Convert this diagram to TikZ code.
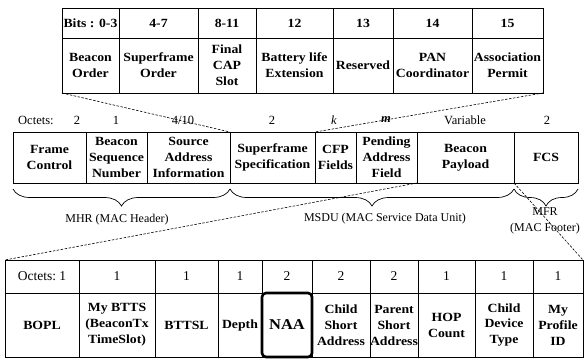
\documentclass[tikz,border=0pt]{standalone}
\usepackage{fontspec}
\setmainfont{Liberation Serif}
\newfontfamily\cellfont{Liberation Serif}[FakeStretch=1.1]
\usetikzlibrary{decorations.pathreplacing,calc}

% \fcell[style]{name}{x1}{y1}{x2}{y2}{text}: a framed cell spanning the given box
\newcommand\fcell[7][]{%
  \node[cellbox, #1, minimum width={(#5-#3)*1pt}, minimum height={(#6-#4)*1pt}]
    (#2) at ({(#3+#5)/2},{(#4+#6)/2}) {#7};}

\tikzset{
  cellbox/.style={draw, line width=1pt, inner sep=0pt, outer sep=0pt, align=center,
    font=\cellfont\bfseries\fontsize{12.5}{16}\selectfont},
  hdrbox/.style={font=\fontsize{13.5}{16}\selectfont},
  octlabel/.style={inner sep=0pt, font=\fontsize{12.5}{15}\selectfont},
  grplabel/.style={inner sep=0pt, align=center, font=\fontsize{12}{16}\selectfont},
  expand/.style={line width=0.6pt, dash pattern=on 2.5pt off 1.5pt},
  grpbrace/.style={line width=0.7pt, decorate,
    decoration={brace, mirror, amplitude=17pt}},
  naaframe/.style={line width=2.6pt, rounded corners=4pt}
}

\begin{document}
\begin{tikzpicture}[x=1pt,y=-1pt]
\useasboundingbox (0,0) rectangle (585,360);

% superframe specification bits
\fcell{tb1}{62}{8}{119}{38}{Bits : 0-3}
\fcell{tb2}{119}{8}{198}{38}{4-7}
\fcell{tb3}{198}{8}{256}{38}{8-11}
\fcell{tb4}{256}{8}{333}{38}{12}
\fcell{tb5}{333}{8}{393}{38}{13}
\fcell{tb6}{393}{8}{472}{38}{14}
\fcell{tb7}{472}{8}{543}{38}{15}
\fcell{tc1}{62}{38}{119}{93}{Beacon\\Order}
\fcell{tc2}{119}{38}{198}{93}{Superframe\\Order}
\fcell{tc3}{198}{38}{256}{93}{Final\\CAP\\Slot}
\fcell{tc4}{256}{38}{333}{93}{Battery life\\Extension}
\fcell{tc5}{333}{38}{393}{93}{Reserved}
\fcell{tc6}{393}{38}{472}{93}{PAN\\Coordinator}
\fcell{tc7}{472}{38}{543}{93}{Association\\Permit}

% beacon frame octet counts
\node[octlabel, anchor=west] (o0) at (18,120) {Octets:};
\node[octlabel] (o1) at (77,120) {2};
\node[octlabel] (o2) at (116,120) {1};
\node[octlabel] (o3) at (183,120) {4/10};
\node[octlabel] (o4) at (272,120) {2};
\node[octlabel] (o5) at (334,120) {\textit{k}};
\node[octlabel] (o6) at (386,120) {\textit{\textbf{m}}};
\node[octlabel] (o7) at (465,120) {Variable};
\node[octlabel] (o8) at (547,120) {2};

% beacon frame fields
\fcell{f1}{13}{132}{86}{183}{Frame\\Control}
\fcell{f2}{86}{132}{147}{183}{Beacon\\Sequence\\Number}
\fcell{f3}{147}{132}{230}{183}{Source\\Address\\Information}
\fcell{f4}{230}{132}{315}{183}{Superframe\\Specification}
\fcell{f5}{315}{132}{356}{183}{CFP\\Fields}
\fcell{f6}{356}{132}{417}{183}{Pending\\Address\\Field}
\fcell{f7}{417}{132}{514}{183}{Beacon\\Payload}
\fcell{f8}{514}{132}{578}{183}{FCS}

% expansion of the superframe specification
\draw[expand] (tc1.south west) -- (f4.north west);
\draw[expand] (tc7.south east) -- (f5.north west);

% MAC frame groups
\draw[grpbrace] ($(f1.south west)+(0,6)$) -- ($(f3.south east)+(0,6)$);
\draw[grpbrace] ($(f4.south west)+(0,6)$) -- ($(f7.south east)+(0,6)$);
\draw[grpbrace] ($(f8.south west)+(0,6)$) -- ($(f8.south east)+(0,6)$);
\node[grplabel] (mhr) at (117,220) {MHR (MAC Header)};
\node[grplabel] (msdu) at (385,219) {MSDU (MAC Service Data Unit)};
\node[grplabel] (mfr) at (545,221) {MFR\\(MAC Footer)};

% beacon payload fields
\fcell[hdrbox]{bh1}{5}{260}{79}{293}{Octets:\ 1}
\fcell[hdrbox]{bh2}{79}{260}{155}{293}{1}
\fcell[hdrbox]{bh3}{155}{260}{218}{293}{1}
\fcell[hdrbox]{bh4}{218}{260}{262}{293}{1}
\fcell[hdrbox]{bh5}{262}{260}{312}{293}{2}
\fcell[hdrbox]{bh6}{312}{260}{370}{293}{2}
\fcell[hdrbox]{bh7}{370}{260}{418}{293}{2}
\fcell[hdrbox]{bh8}{418}{260}{475}{293}{1}
\fcell[hdrbox]{bh9}{475}{260}{533}{293}{1}
\fcell[hdrbox]{bh10}{533}{260}{583}{293}{1}
\fcell{bc1}{5}{293}{79}{357}{BOPL}
\fcell{bc2}{79}{293}{155}{357}{My BTTS\\(BeaconTx\\TimeSlot)}
\fcell{bc3}{155}{293}{218}{357}{BTTSL}
\fcell{bc4}{218}{293}{262}{357}{Depth}
\fcell{bc5}{262}{293}{312}{357}{\fontsize{15}{18}\selectfont NAA}
\fcell{bc6}{312}{293}{370}{357}{Child\\Short\\Address}
\fcell{bc7}{370}{293}{418}{357}{Parent\\Short\\Address}
\fcell{bc8}{418}{293}{475}{357}{HOP\\Count}
\fcell{bc9}{475}{293}{533}{357}{Child\\Device\\Type}
\fcell{bc10}{533}{293}{583}{357}{My\\Profile\\ID}
\draw[naaframe] (bc5.north west) rectangle (bc5.south east);

% expansion of the beacon payload
\draw[expand] (f7.south west) -- (bh1.north west);
\draw[expand] (f7.south east) -- (bh10.north east);
\end{tikzpicture}
\end{document}
